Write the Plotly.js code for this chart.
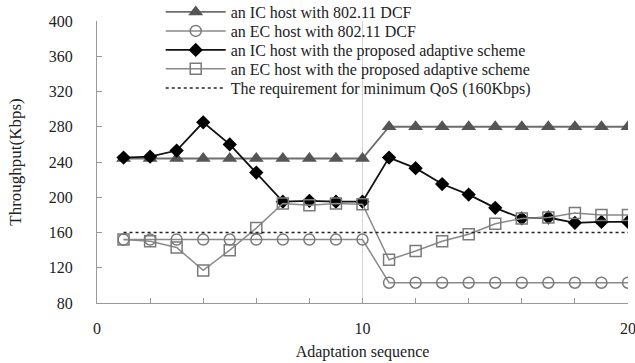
<!DOCTYPE html>
<html><head><meta charset="utf-8">
<script src="https://cdn.plot.ly/plotly-3.0.1.min.js"></script>
<style>html,body{margin:0;padding:0;background:#fff}#chart{width:635px;height:363px}</style>
</head><body><div id="chart"></div>
<script>
const seq = [1,2,3,4,5,6,7,8,9,10,11,12,13,14,15,16,17,18,19,20];
const icDcf = [244,244,244,244,244,244,244,244,244,244,280,280,280,280,280,280,280,280,280,280];
const ecDcf = [152,152,152,152,152,152,152,152,152,152,103,103,103,103,103,103,103,103,103,103];
const icAdaptive = [245,246,253,285,260,228,195,196,195,195,245,233,215,203,188,176,177,171,172,172];
const ecAdaptive = [152,150,143,117,140,165,193,191,193,192,129,139,150,158,170,176,177,182,180,180];
const qosX = [1,20];
const qosY = [160,160];
const names = ['an IC host with 802.11 DCF','an EC host with 802.11 DCF','an IC host with the proposed adaptive scheme','an EC host with the proposed adaptive scheme','The requirement for minimum QoS (160Kbps)'];

const traces = [
  {x:seq,y:icDcf,name:names[0],legend:'legend',mode:'lines+markers',line:{color:'#6e6e6e',width:1.8},marker:{symbol:'triangle-up',size:13,color:'#555'}},
  {x:seq,y:ecDcf,name:names[1],legend:'legend2',mode:'lines+markers',line:{color:'#8a8a8a',width:1.5},marker:{symbol:'circle-open',size:11,color:'#7a7a7a',line:{width:1.5}}},
  {x:seq,y:icAdaptive,name:names[2],legend:'legend3',mode:'lines+markers',line:{color:'#111',width:1.8},marker:{symbol:'diamond',size:11,color:'#000'}},
  {x:seq,y:ecAdaptive,name:names[3],legend:'legend4',mode:'lines+markers',line:{color:'#8a8a8a',width:1.5},marker:{symbol:'square-open',size:11,color:'#7a7a7a',line:{width:1.5}}},
  {x:qosX,y:qosY,name:names[4],legend:'legend5',mode:'lines',line:{color:'#222',width:1.5,dash:'dot'}}
];
const family = 'Liberation Serif, Times New Roman, serif';
const rowY = [1.032,0.9645,0.897,0.830,0.762];
function leg(y){
  return {x:0.12,y:y,xanchor:'left',yanchor:'middle',bgcolor:'rgba(0,0,0,0)',
    font:{family:family,size:16,color:'#222'},itemwidth:60,borderwidth:0};
}
const layout = {
  width:635,height:363,
  margin:{l:97,r:7,t:21,b:60,autoexpand:false},
  paper_bgcolor:'#fff',plot_bgcolor:'#fff',
  font:{family:family,size:15,color:'#222'},
  showlegend:true,
  legend:leg(rowY[0]),legend2:leg(rowY[1]),legend3:leg(rowY[2]),legend4:leg(rowY[3]),legend5:leg(rowY[4]),
  shapes:[{type:'rect',xref:'paper',yref:'paper',x0:0.12,x1:0.82,y0:0.72,y1:1.07,fillcolor:'#fff',line:{width:0},layer:'between'}],
  xaxis:{range:[0,20],dtick:10,tick0:0,showgrid:true,gridcolor:'#d4d4d4',gridwidth:1,zeroline:false,
    showline:true,linecolor:'#999',linewidth:1,ticks:'inside',ticklen:5,tickcolor:'#999',ticklabelstandoff:11,
    ticklabeloverflow:'allow',
    minor:{dtick:2,ticks:'inside',ticklen:5,tickcolor:'#999',showgrid:false},
    tickfont:{family:family,size:16,color:'#222'},
    title:{text:'Adaptation sequence',font:{family:family,size:16,color:'#222'},standoff:9}},
  yaxis:{range:[80,400],dtick:40,tick0:80,showgrid:false,zeroline:false,
    showline:true,linecolor:'#999',linewidth:1,ticks:'inside',ticklen:5,tickcolor:'#999',ticklabelstandoff:20,
    tickfont:{family:family,size:16,color:'#222'},
    title:{text:'Throughput(Kbps)',font:{family:family,size:17,color:'#222'},standoff:22}}
};
Plotly.newPlot('chart',traces,layout,{displayModeBar:false,staticPlot:true});
</script></body></html>
